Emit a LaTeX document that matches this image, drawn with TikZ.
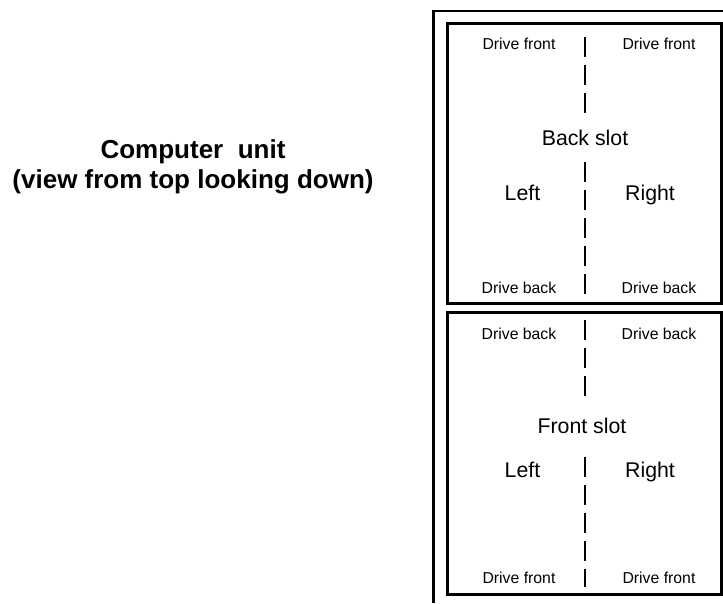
\documentclass[tikz,border=0pt]{standalone}
\usepackage{fontspec}
\setmainfont{Liberation Sans}
\usetikzlibrary{positioning}

\begin{document}
\begin{tikzpicture}[x=1pt,y=-1pt,
 drivelbl/.style={anchor=base,inner sep=0pt,font=\fontsize{15.8}{18}\selectfont},
 sidelbl/.style={anchor=base,inner sep=0pt,font=\fontsize{21.3}{24}\selectfont},
 titlelbl/.style={anchor=base,inner sep=0pt,font=\bfseries\fontsize{26}{30}\selectfont},
 slotbox/.style={line width=3pt},
 divider/.style={line width=2.8pt,dash pattern=on 20pt off 8pt}]
\useasboundingbox (0,0) rectangle (723,603);
% housing and the two slots
\draw[line width=2.2pt] (723,11) -- (433.5,11) -- (433.5,603);
\draw[slotbox] (447,23) rectangle (721,303);
\draw[slotbox] (447,312) rectangle (721,594);
% title
\node[titlelbl] (title) at (193,158) {Computer\ \ unit};
\node[titlelbl] (subtitle) at (193,188) {(view from top looking down)};
% labels
\foreach \y/\t in {49/Drive front,293/Drive back,339/Drive back,583/Drive front}{
 \node[drivelbl] (dl\y) at (519,\y) {\t};
 \node[drivelbl] (dr\y) at (659,\y) {\t};
}
\foreach \y in {200,477}{
 \node[sidelbl] (left\y) at (522.5,\y) {Left};
 \node[sidelbl] (right\y) at (650,\y) {Right};
}
\node[sidelbl] (backslot) at (585,145) {Back slot};
\node[sidelbl] (frontslot) at (582,433) {Front slot};
% dividers
\draw[divider] (585,37) -- (585,113);
\draw[divider] (585,162) -- (585,297);
\draw[divider] (585,320) -- (585,397);
\draw[divider] (585,457) -- (585,587);
\end{tikzpicture}
\end{document}
